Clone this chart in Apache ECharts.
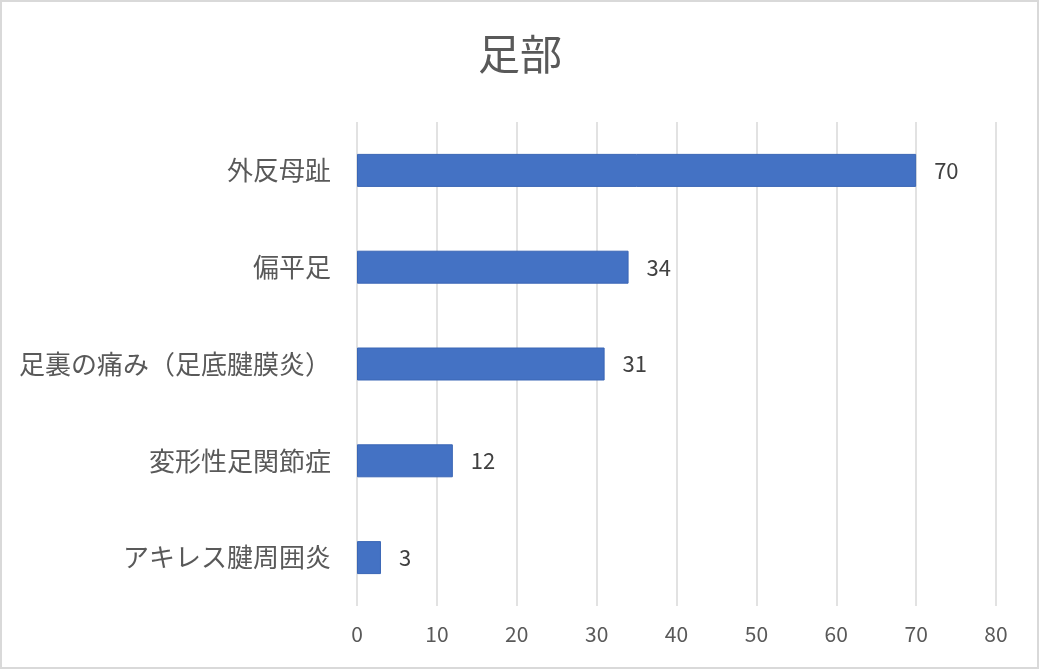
<!DOCTYPE html>
<html>
<head>
<meta charset="utf-8">
<script src="https://cdn.jsdelivr.net/npm/echarts@6/dist/echarts.min.js"></script>
<style>
  html, body { margin: 0; padding: 0; background: #fff; }
  #main { width: 1040px; height: 670px; }
</style>
</head>
<body>
<div id="main"></div>
<script>
// 足部 - 症状別件数
var categories = ['外反母趾', '偏平足', '足裏の痛み（足底腱膜炎）', '変形性足関節症', 'アキレス腱周囲炎'];
var counts = [70, 34, 31, 12, 3];
var xTicks = [0, 10, 20, 30, 40, 50, 60, 70, 80];

var FONT = '"Noto Sans CJK JP", "Noto Sans", sans-serif';

var chart = echarts.init(document.getElementById('main'));

chart.setOption({
  animation: false,
  backgroundColor: '#fff',
  textStyle: { fontFamily: FONT },
  title: {
    text: '足部',
    left: 'center',
    top: 28,
    textStyle: { fontSize: 42, fontWeight: 'normal', color: '#595959', fontFamily: FONT }
  },
  graphic: [{
    type: 'rect',
    silent: true,
    shape: { x: 1, y: 1, width: 1037, height: 667 },
    style: { fill: null, stroke: '#d9d9d9', lineWidth: 2 }
  }],
  grid: { left: 357, right: 44, top: 122, bottom: 64, containLabel: false },
  xAxis: {
    type: 'value',
    min: xTicks[0],
    max: xTicks[xTicks.length - 1],
    interval: 10,
    axisLine: { show: false },
    axisTick: { show: false },
    axisLabel: { color: '#595959', fontSize: 21, margin: 18, fontFamily: FONT },
    splitLine: { lineStyle: { color: '#d9d9d9', width: 1.5 } }
  },
  yAxis: {
    type: 'category',
    inverse: true,
    data: categories,
    axisLine: { show: false },
    axisTick: { show: false },
    axisLabel: { color: '#595959', fontSize: 26, margin: 26, fontFamily: FONT }
  },
  series: [{
    type: 'bar',
    data: counts,
    barWidth: 33,
    itemStyle: { color: '#4472c4', borderColor: '#3a66b5', borderWidth: 1 },
    label: {
      show: true,
      position: 'right',
      distance: 18,
      color: '#404040',
      fontSize: 22,
      fontFamily: FONT
    }
  }]
});
</script>
</body>
</html>
